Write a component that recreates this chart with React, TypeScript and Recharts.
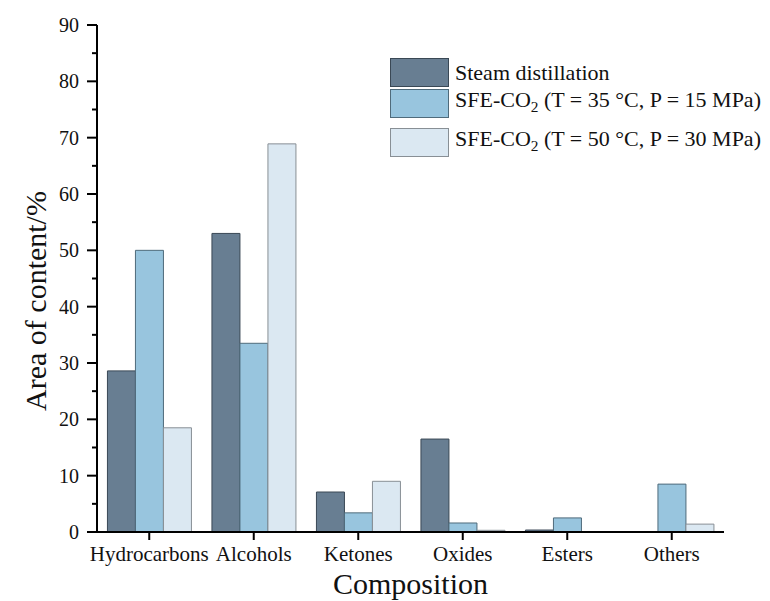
import React from "react";
import { BarChart, Bar, XAxis, YAxis } from "recharts";

const categories = ["Hydrocarbons", "Alcohols", "Ketones", "Oxides", "Esters", "Others"];
const steamDistillation = [28.6, 53.0, 7.1, 16.5, 0.35, 0];
const sfe35 = [50.0, 33.5, 3.4, 1.6, 2.5, 8.5];
const sfe50 = [18.5, 68.9, 9.0, 0.3, 0, 1.4];
const yTicks = [0, 5, 10, 15, 20, 25, 30, 35, 40, 45, 50, 55, 60, 65, 70, 75, 80, 85, 90];

const data = categories.map((name, i) => ({
  name,
  steam: steamDistillation[i],
  sfe35: sfe35[i],
  sfe50: sfe50[i],
}));

const FONT = "'Liberation Serif', 'DejaVu Serif', serif";

const series = [
  { key: "steam", fill: "#687e92", stroke: "#3a4855", label: <>Steam distillation</> },
  {
    key: "sfe35",
    fill: "#98c5de",
    stroke: "#4f6b7b",
    label: (
      <>
        SFE-CO<sub style={{ fontSize: "0.7em" }}>2</sub> (T = 35 °C, P = 15 MPa)
      </>
    ),
  },
  {
    key: "sfe50",
    fill: "#dbe8f2",
    stroke: "#888f95",
    label: (
      <>
        SFE-CO<sub style={{ fontSize: "0.7em" }}>2</sub> (T = 50 °C, P = 30 MPa)
      </>
    ),
  },
];

const Y_TICK_SIZE = 10;
const Y_TICK_MARGIN = 8;

const YTick = (props: any) => {
  const { x, y, payload } = props;
  const axisX = x + Y_TICK_SIZE + Y_TICK_MARGIN;
  const major = payload.value % 10 === 0;
  return (
    <g>
      <line x1={axisX - (major ? 10 : 5)} x2={axisX} y1={y} y2={y} stroke="#000" strokeWidth={2} />
      {major && (
        <text x={x} y={y} dy="0.35em" textAnchor="end" fontSize={20} fontFamily={FONT} fill="#111">
          {payload.value}
        </text>
      )}
    </g>
  );
};

const LegendBox = () => (
  <div
    style={{
      position: "absolute",
      top: 58,
      left: 390,
      fontFamily: FONT,
      fontSize: 22,
      color: "#111",
    }}
  >
    {series.map((s, i) => (
      <div
        key={s.key}
        style={{ display: "flex", alignItems: "center", height: 29, marginBottom: i === 1 ? 10 : 2 }}
      >
        <div
          style={{
            width: 57,
            height: 27,
            background: s.fill,
            border: `1px solid ${s.stroke}`,
            marginRight: 6,
          }}
        />
        <span style={{ whiteSpace: "nowrap", lineHeight: "29px" }}>{s.label}</span>
      </div>
    ))}
  </div>
);

export default function App() {
  return (
    <div style={{ position: "absolute", left: 0, top: 0, width: 770, height: 601, background: "#fff" }}>
      <BarChart
        width={770}
        height={601}
        data={data}
        margin={{ top: 25, right: 46, bottom: 39, left: 17 }}
        barCategoryGap="10%"
        barGap={0}
      >
        <XAxis
          dataKey="name"
          axisLine={{ stroke: "#000", strokeWidth: 2 }}
          tickLine={{ stroke: "#000", strokeWidth: 2 }}
          tickSize={8}
          tickMargin={6}
          height={30}
          interval={0}
          tick={{ fontSize: 21, fontFamily: FONT, fill: "#111" }}
          label={{
            content: ({ viewBox }: any) => (
              <text
                x={viewBox.x + viewBox.width / 2}
                y={viewBox.y + 62}
                textAnchor="middle"
                fontSize={30}
                fontFamily={FONT}
                fill="#111"
              >
                Composition
              </text>
            ),
          }}
        />
        <YAxis
          domain={[0, 90]}
          ticks={yTicks}
          interval={0}
          width={80}
          axisLine={{ stroke: "#000", strokeWidth: 2 }}
          tickLine={false}
          tickSize={Y_TICK_SIZE}
          tickMargin={Y_TICK_MARGIN}
          tick={<YTick />}
          label={{
            content: () => {
              const cx = 35;
              const cy = 301;
              return (
                <text
                  x={cx}
                  y={cy}
                  transform={`rotate(-90, ${cx}, ${cy})`}
                  textAnchor="middle"
                  dominantBaseline="central"
                  fontSize={30}
                  fontFamily={FONT}
                  fill="#111"
                >
                  Area of content/%
                </text>
              );
            },
          }}
        />
        {series.map((s) => (
          <Bar
            key={s.key}
            dataKey={s.key}
            fill={s.fill}
            stroke={s.stroke}
            strokeWidth={1}
            isAnimationActive={false}
          />
        ))}
      </BarChart>
      <LegendBox />
    </div>
  );
}
